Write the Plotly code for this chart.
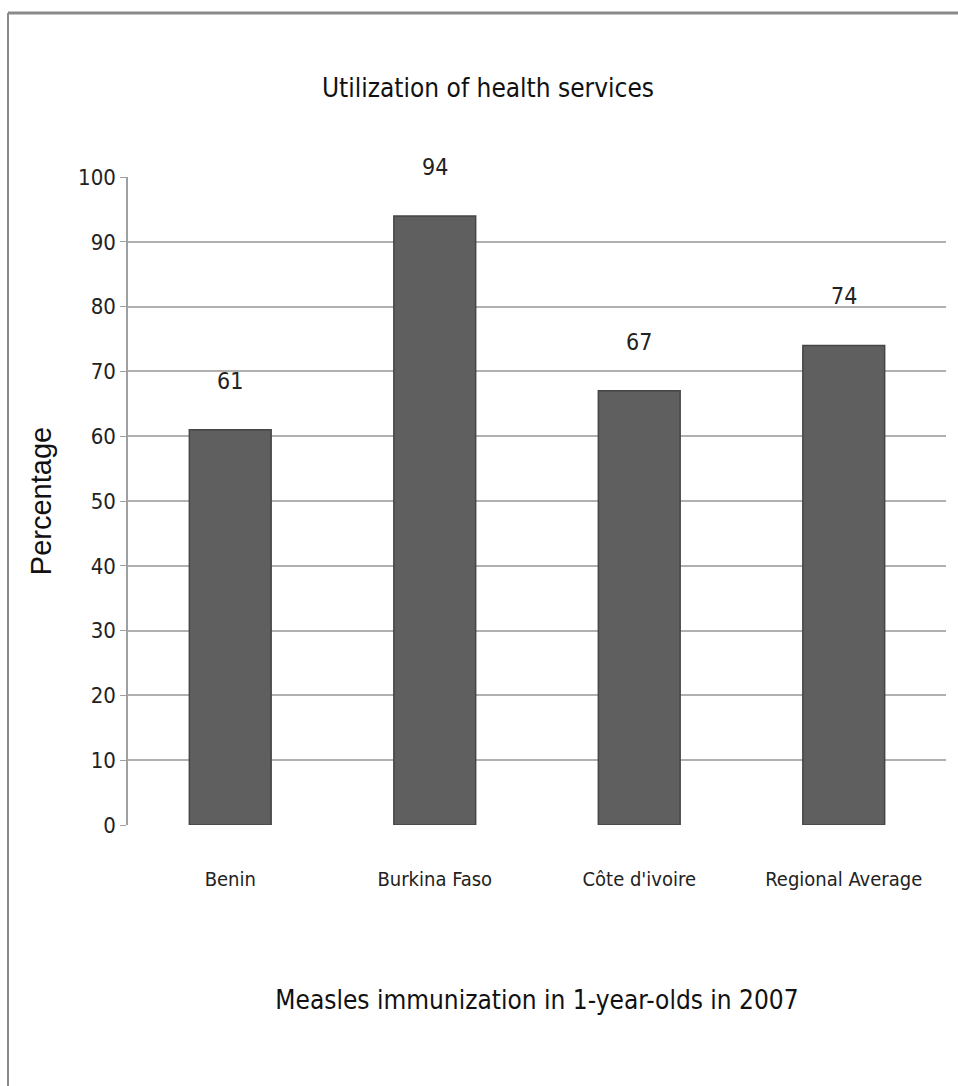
import plotly.graph_objects as go

# Measles immunization coverage (%) among 1-year-olds, 2007
countries = ["Benin", "Burkina Faso", "Côte d'ivoire", "Regional Average"]
coverage = [61, 94, 67, 74]
y_ticks = [0, 10, 20, 30, 40, 50, 60, 70, 80, 90, 100]

NARROW = "DejaVu Sans Condensed, Liberation Sans Narrow, sans-serif"

fig = go.Figure(
    go.Bar(
        x=countries,
        y=coverage,
        marker=dict(color="#5f5f5f", line=dict(color="#454545", width=1.5)),
        hoverinfo="x+y",
    )
)

# value labels above each bar
for c, v in zip(countries, coverage):
    fig.add_annotation(
        x=c, y=v, text=str(v), showarrow=False, yanchor="bottom", yshift=34,
        font=dict(family=NARROW, size=23, color="#222222"),
    )

L, R, T, B = 128, 12, 177, 261
W, H = 958, 1086
pw, ph = W - L - R, H - T - B

def px_to_paper(px, py):
    return (px - L) / pw, (H - B - py) / ph

# outer frame (left and top edges)
x0, y0 = px_to_paper(8, 13)
x1, y1 = px_to_paper(W + 5, H + 5)
fig.add_shape(type="line", xref="paper", yref="paper", x0=x0, y0=y1, x1=x0, y1=y0,
              line=dict(color="#8a8a8a", width=2))
fig.add_shape(type="line", xref="paper", yref="paper", x0=x0, y0=y0, x1=x1, y1=y0,
              line=dict(color="#8a8a8a", width=3))

fig.update_layout(
    width=W, height=H,
    margin=dict(l=L, r=R, t=T, b=B),
    paper_bgcolor="white", plot_bgcolor="white",
    bargap=0.6,
    showlegend=False,
    title=dict(text="Utilization of health services", x=488 / W, xanchor="center",
               y=1 - 88 / H, yanchor="middle",
               font=dict(family=NARROW, size=26, color="#111111")),
    xaxis=dict(
        showgrid=False, showline=False, ticks="",
        tickfont=dict(family=NARROW, size=20, color="#222222"),
        ticklabelstandoff=40,
        title=dict(text="Measles immunization in 1-year-olds in 2007", standoff=100,
                   font=dict(family=NARROW, size=26, color="#111111")),
    ),
    yaxis=dict(
        range=[0, 100], tickvals=y_ticks,
        showgrid=True, gridcolor="#b0b0b0", gridwidth=2,
        showline=True, linecolor="#a0a0a0", linewidth=1.5,
        ticks="outside", ticklen=6, tickcolor="#a0a0a0",
        tickfont=dict(family=NARROW, size=22, color="#222222"),
        zeroline=False,
        title=dict(text="Percentage", standoff=18,
                   font=dict(family="Liberation Sans, Arial, sans-serif", size=29, color="#111111")),
    ),
)

fig.write_html("out.html")
